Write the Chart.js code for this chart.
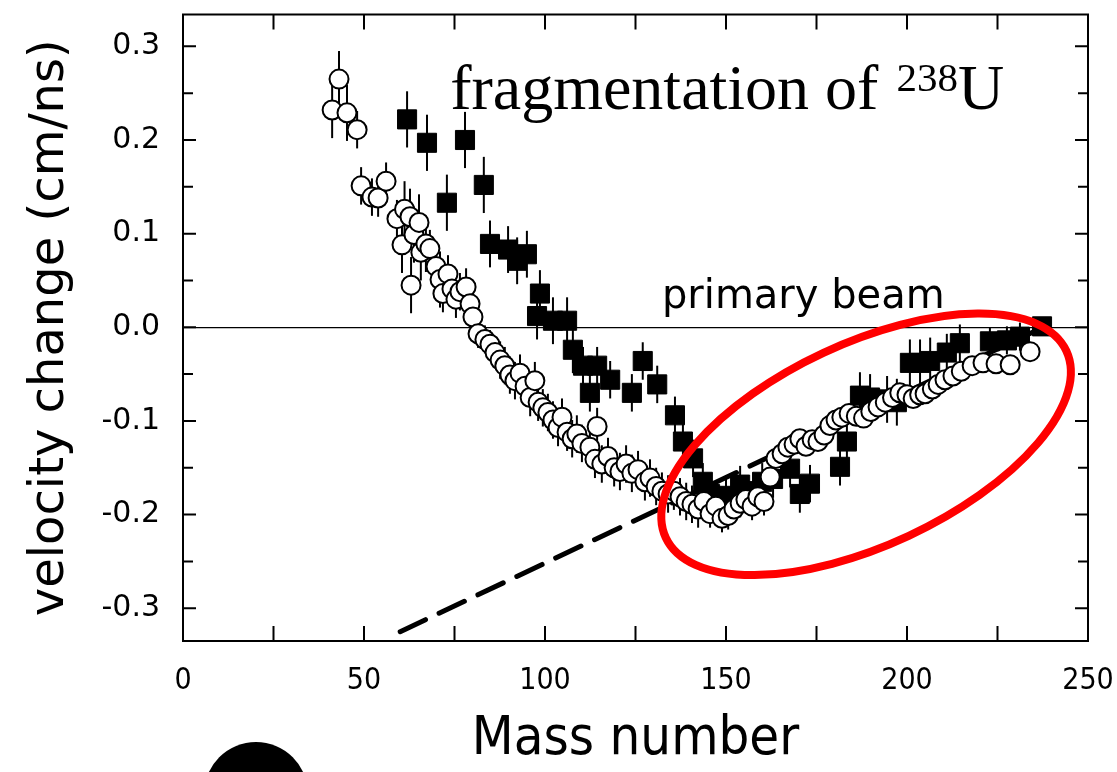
<!DOCTYPE html>
<html><head><meta charset="utf-8">
<script src="https://cdn.jsdelivr.net/npm/chart.js@4.4.1/dist/chart.umd.min.js"></script>
<style>html,body{margin:0;padding:0;background:#fff;}#wrap{width:1117px;height:772px;position:relative;}</style>
</head><body><div id="wrap"><canvas id="c"></canvas></div>
<script>
// ---- data ----
const xTickLabels = [0, 50, 100, 150, 200, 250];
const xMinorTicks = [25, 75, 125, 175, 225];
const yTickLabels = [0.3, 0.2, 0.1, 0.0, -0.1, -0.2, -0.3];
const yMinorTicks = [0.25, 0.15, 0.05, -0.05, -0.15, -0.25];

const circleMass = [41.2,43.1,45.3,48.1,49.2,52.2,53.9,56.1,59.1,60.5,61.2,62.7,63.0,63.8,65.2,65.7,67.1,68.2,69.9,71.0,71.8,73.2,74.3,75.4,76.5,78.2,79.3,80.1,81.5,83.4,84.8,86.2,87.6,88.9,90.3,91.7,93.1,94.5,95.9,97.2,98.1,99.4,100.8,102.2,103.6,104.7,106.1,107.5,108.8,110.2,112.4,113.8,114.4,115.7,117.4,119.1,120.7,122.4,124.0,125.7,127.6,129.0,130.7,132.3,134.0,135.6,137.3,139.0,140.6,142.3,143.9,145.6,147.2,148.9,150.6,152.2,153.9,155.5,157.2,158.8,160.5,162.2,163.8,165.5,167.1,168.8,170.4,172.1,173.8,175.4,177.1,178.7,180.4,182.0,184.0,186.0,188.0,190.0,192.0,194.0,196.0,198.0,200.0,201.7,203.5,205.0,207.0,208.6,210.5,212.7,215.0,218.0,221.0,224.6,228.5,234.0];
const circleVel = [0.232,0.265,0.229,0.211,0.151,0.139,0.138,0.156,0.116,0.088,0.126,0.118,0.045,0.099,0.112,0.080,0.089,0.084,0.065,0.051,0.036,0.057,0.041,0.030,0.038,0.043,0.025,0.011,-0.007,-0.013,-0.018,-0.027,-0.035,-0.041,-0.051,-0.057,-0.049,-0.063,-0.075,-0.057,-0.080,-0.086,-0.091,-0.099,-0.107,-0.096,-0.112,-0.119,-0.114,-0.124,-0.128,-0.141,-0.106,-0.146,-0.138,-0.150,-0.154,-0.146,-0.156,-0.152,-0.165,-0.161,-0.170,-0.175,-0.178,-0.175,-0.181,-0.186,-0.189,-0.194,-0.186,-0.199,-0.191,-0.204,-0.201,-0.194,-0.188,-0.184,-0.191,-0.181,-0.186,-0.160,-0.140,-0.135,-0.128,-0.125,-0.119,-0.127,-0.120,-0.122,-0.115,-0.105,-0.099,-0.096,-0.092,-0.095,-0.097,-0.090,-0.085,-0.080,-0.075,-0.070,-0.072,-0.076,-0.072,-0.071,-0.066,-0.061,-0.056,-0.052,-0.047,-0.041,-0.038,-0.039,-0.040,-0.026];
const circleErr = [0.03,0.03,0.03,0.02,0.02,0.02,0.02,0.02,0.02,0.03,0.03,0.03,0.03,0.03,0.03,0.03,0.03,0.02,0.02,0.03,0.02,0.02,0.02,0.02,0.02,0.02,0.02,0.02,0.015,0.015,0.015,0.015,0.02,0.02,0.02,0.02,0.02,0.02,0.02,0.02,0.02,0.02,0.02,0.02,0.02,0.02,0.02,0.02,0.02,0.02,0.02,0.02,0.02,0.02,0.02,0.02,0.02,0.02,0.02,0.02,0.02,0.02,0.02,0.02,0.02,0.02,0.02,0.02,0.02,0.02,0.02,0.015,0.015,0.015,0.015,0.015,0.015,0.015,0.015,0.015,0.015,0.01,0.01,0.01,0.01,0.01,0.01,0.01,0.01,0.01,0.01,0.01,0.01,0.008,0.008,0.008,0.008,0.008,0.008,0.008,0.008,0.008,0.008,0.008,0.008,0.008,0.008,0.008,0.008,0.008,0.008,0.008,0.008,0.008,0.008,0.008];

const squareMass = [61.9,67.4,72.9,77.9,83.1,84.8,89.8,92.3,95.0,97.8,98.6,102.2,106.1,107.7,110.5,112.4,114.4,118.0,124.0,127.0,131.0,135.9,138.1,140.9,143.6,145.6,147.5,150.0,153.9,157.5,160.0,163.0,167.7,170.4,173.2,181.5,183.4,187.0,189.8,194.5,197.2,200.8,203.6,206.4,211.0,214.6,222.9,227.6,231.2,237.3];
const squareVel = [0.222,0.197,0.133,0.200,0.152,0.089,0.083,0.071,0.078,0.012,0.036,0.007,0.007,-0.024,-0.041,-0.070,-0.041,-0.056,-0.070,-0.036,-0.061,-0.094,-0.122,-0.140,-0.165,-0.178,-0.185,-0.180,-0.168,-0.175,-0.165,-0.162,-0.151,-0.178,-0.167,-0.149,-0.122,-0.073,-0.075,-0.077,-0.080,-0.038,-0.038,-0.036,-0.027,-0.017,-0.015,-0.014,-0.010,0.001];
const squareErr = [0.03,0.03,0.03,0.03,0.03,0.025,0.025,0.025,0.025,0.025,0.025,0.025,0.025,0.025,0.02,0.02,0.02,0.02,0.02,0.02,0.02,0.02,0.02,0.02,0.02,0.02,0.02,0.02,0.02,0.02,0.02,0.02,0.02,0.02,0.02,0.02,0.02,0.025,0.025,0.025,0.025,0.025,0.025,0.025,0.02,0.02,0.015,0.015,0.015,0.01];

const dashMass = [60, 236];
const dashVel = [-0.325, -0.003];

const titleParts = ['fragmentation of ', '238', 'U'];
const beamLabel = 'primary beam';
const xTitle = 'Mass number';
const yTitle = 'velocity change (cm/ns)';

// ---- build datasets ----
const pts = (xs, ys) => xs.map((x, i) => ({x: x, y: ys[i]}));

const deco = {
  id: 'deco',
  beforeDatasetsDraw(chart) {
    const ctx = chart.ctx, xs = chart.scales.x, ys = chart.scales.y;
    ctx.save();
    ctx.strokeStyle = '#000';
    ctx.lineWidth = 2;
    const bars = (m, v, e) => {
      for (let i = 0; i < m.length; i++) {
        const x = xs.getPixelForValue(m[i]);
        ctx.beginPath();
        ctx.moveTo(x, ys.getPixelForValue(v[i] - e[i]));
        ctx.lineTo(x, ys.getPixelForValue(v[i] + e[i]));
        ctx.stroke();
      }
    };
    bars(squareMass, squareVel, squareErr);
    bars(circleMass, circleVel, circleErr);
    ctx.restore();
  },
  afterDatasetsDraw(chart) {
    const ctx = chart.ctx, xs = chart.scales.x, ys = chart.scales.y, a = chart.chartArea;
    ctx.save();
    // red ellipse highlighting the heavy-fragment region
    ctx.strokeStyle = '#ff0000';
    ctx.lineWidth = 8;
    ctx.beginPath();
    ctx.ellipse(xs.getPixelForValue(188.7), ys.getPixelForValue(-0.125), 221, 101, -25 * Math.PI / 180, 0, 2 * Math.PI);
    ctx.stroke();

    // frame
    ctx.strokeStyle = '#000';
    ctx.lineWidth = 2;
    ctx.strokeRect(a.left, a.top, a.right - a.left, a.bottom - a.top);
    // inward ticks
    const tick = (vals, len) => {
      vals.forEach(v => {
        const x = xs.getPixelForValue(v);
        ctx.beginPath();
        ctx.moveTo(x, a.bottom); ctx.lineTo(x, a.bottom - len);
        ctx.moveTo(x, a.top); ctx.lineTo(x, a.top + len);
        ctx.stroke();
      });
    };
    const ytick = (vals, len) => {
      vals.forEach(v => {
        const y = ys.getPixelForValue(v);
        ctx.beginPath();
        ctx.moveTo(a.left, y); ctx.lineTo(a.left + len, y);
        ctx.moveTo(a.right, y); ctx.lineTo(a.right - len, y);
        ctx.stroke();
      });
    };
    tick(xTickLabels, 15); tick(xMinorTicks, 15);
    ytick(yTickLabels, 13); ytick(yMinorTicks, 10);

    // texts
    ctx.fillStyle = '#000';
    ctx.textBaseline = 'alphabetic';
    ctx.textAlign = 'left';
    ctx.font = '40px "DejaVu Sans"';
    ctx.fillText(beamLabel, xs.getPixelForValue(132.3), ys.getPixelForValue(0) - 19);

    let tx = xs.getPixelForValue(73.8);
    const ty = ys.getPixelForValue(0.233);
    ctx.font = '64px "Liberation Serif"';
    ctx.fillText(titleParts[0], tx, ty);
    tx += ctx.measureText(titleParts[0]).width + 2;
    ctx.font = '41px "Liberation Serif"';
    ctx.fillText(titleParts[1], tx, ty - 18);
    tx += ctx.measureText(titleParts[1]).width;
    ctx.font = '64px "Liberation Serif"';
    ctx.fillText(titleParts[2], tx, ty);
    ctx.restore();
  },
  afterDraw(chart) {
    const ctx = chart.ctx;
    ctx.save();
    ctx.fillStyle = '#000';
    ctx.beginPath();
    ctx.arc(256, 794, 52, 0, 2 * Math.PI);
    ctx.fill();
    ctx.restore();
  }
};

new Chart(document.getElementById('c'), {
  type: 'scatter',
  data: {
    datasets: [
      {
        label: 'open',
        data: pts(circleMass, circleVel),
        pointStyle: 'circle',
        pointRadius: 9.5,
        pointBackgroundColor: '#fff',
        pointBorderColor: '#000',
        pointBorderWidth: 2,
        order: 1
      },
      {
        label: 'filled',
        data: pts(squareMass, squareVel),
        pointStyle: 'rect',
        pointRadius: 13.5,
        pointBackgroundColor: '#000',
        pointBorderColor: '#000',
        pointBorderWidth: 1,
        order: 2
      },
      {
        type: 'line',
        label: 'trend',
        data: pts(dashMass, dashVel),
        borderColor: '#000',
        borderWidth: 5,
        borderDash: [28, 15],
        borderCapStyle: 'round',
        pointRadius: 0,
        fill: false,
        order: 3
      }
    ]
  },
  options: {
    responsive: true,
    maintainAspectRatio: false,
    animation: false,
    events: [],
    layout: {padding: {top: 8, right: 29, left: 0, bottom: 0}},
    plugins: {legend: {display: false}, tooltip: {enabled: false}},
    scales: {
      x: {
        type: 'linear', min: 0, max: 250,
        afterBuildTicks: s => { s.ticks = xTickLabels.map(v => ({value: v})); },
        afterFit: s => { s.height = 131; s.paddingLeft = 0; s.paddingRight = 0; },
        grid: {display: false, drawTicks: false},
        border: {display: false},
        ticks: {color: '#000', padding: 22, maxRotation: 0, autoSkip: false,
                font: {family: '"DejaVu Sans Condensed", "DejaVu Sans"', size: 30}},
        title: {display: true, text: xTitle, color: '#000', padding: {top: 0, bottom: 0},
                font: {family: '"DejaVu Sans Condensed", "DejaVu Sans"', size: 54}}
      },
      y: {
        type: 'linear', min: -0.335, max: 0.334,
        afterBuildTicks: s => { s.ticks = yTickLabels.map(v => ({value: v})); },
        afterFit: s => { s.width = 183; s.paddingTop = 0; s.paddingBottom = 0; },
        grid: {drawTicks: false, lineWidth: 1.3,
               color: c => (c.tick && Math.abs(c.tick.value) < 1e-9) ? '#000' : 'rgba(0,0,0,0)'},
        border: {display: false},
        ticks: {color: '#000', padding: 23, autoSkip: false,
                font: {family: '"DejaVu Sans"', size: 30},
                callback: v => (Math.abs(v) < 1e-9 ? 0 : v).toFixed(1)},
        title: {display: true, text: yTitle, color: '#000', padding: {top: 22, bottom: 0},
                font: {family: '"DejaVu Sans"', size: 48}}
      }
    }
  },
  plugins: [deco]
});
</script>
</body></html>
